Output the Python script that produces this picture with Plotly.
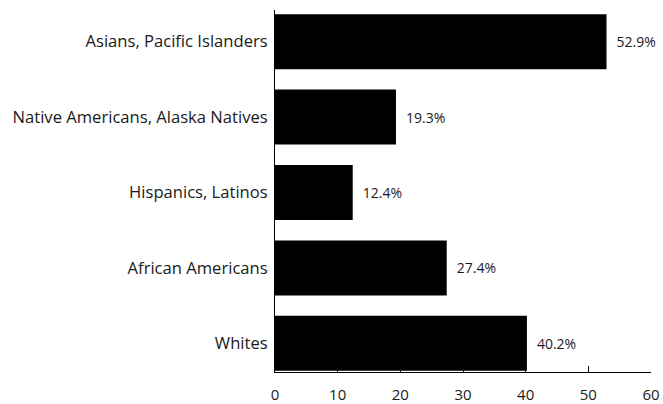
import plotly.graph_objects as go

categories = ["Whites", "African Americans", "Hispanics, Latinos",
              "Native Americans, Alaska Natives", "Asians, Pacific Islanders"]
values = [40.2, 27.4, 12.4, 19.3, 52.9]
labels = [f"\u2002{v:.1f}%" for v in values]
x_ticks = [0, 10, 20, 30, 40, 50, 60]

FONT = "Open Sans"

fig = go.Figure(go.Bar(
    y=categories, x=values, orientation="h",
    marker=dict(color="black", line=dict(width=0)),
    text=labels, textposition="outside",
    textfont=dict(family=FONT, size=14, color="#1a1a1a"),
    cliponaxis=False,
    width=0.73,
))

fig.update_layout(
    width=663, height=404,
    margin=dict(l=275, r=12, t=10, b=32),
    paper_bgcolor="white", plot_bgcolor="white",
    showlegend=False,
    font=dict(family=FONT, size=15, color="#1a1a1a"),
)
fig.update_xaxes(
    range=[0, 60], tickvals=x_ticks, ticks="inside", ticklen=6,
    tickcolor="black", showline=True, linecolor="black", linewidth=1,
    showgrid=False, zeroline=False, tickfont=dict(size=15),
    automargin=False, ticklabelstandoff=9,
)
fig.update_yaxes(
    range=[-0.38, 4.42], showline=True, linecolor="black", linewidth=1,
    ticks="", showgrid=False, zeroline=False, ticklabelstandoff=3,
    tickfont=dict(size=16.6), automargin=False,
)

fig.write_html("out.html")
